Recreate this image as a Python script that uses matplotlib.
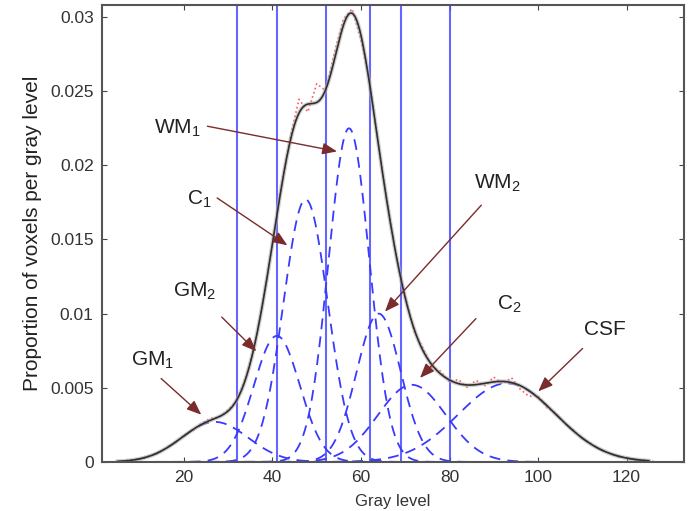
import numpy as np
import matplotlib.pyplot as plt

plt.rcParams['font.family'] = ['Liberation Sans', 'DejaVu Sans']
plt.rcParams['mathtext.default'] = 'regular'

# mixture components: name, mean, sigma, peak height
comp_names = ['GM1', 'GM2', 'C1', 'WM1', 'WM2', 'C2', 'CSF']
comp_mean = [27.0, 41.0, 47.5, 57.3, 64.0, 71.5, 93.0]
comp_sigma = [7.5, 5.2, 5.0, 4.6, 5.0, 7.7, 11.0]
comp_peak = [0.0027, 0.0085, 0.0177, 0.0225, 0.0100, 0.0052, 0.0053]

# thresholds between classes
thresholds = [32, 41, 52, 62, 69, 80]

# measured histogram (proportion of voxels x 1e4)
hist_level = list(range(6, 128, 2))
hist_val = [0.3, 1.4, 1.8, 4.2, 5.6, 9.8, 12.5, 18.3, 21.0, 26.2,
            29.4, 30.1, 35.2, 41.5, 57.3, 78.6, 111.5, 146.0, 186.2, 219.0,
            244.5, 236.0, 255.0, 250.3, 276.0, 298.5, 305.5, 284.0, 256.2, 212.5,
            174.5, 137.0, 112.4, 88.0, 76.8, 63.9, 61.2, 53.8, 55.6, 50.3,
            55.0, 51.4, 57.2, 52.6, 56.8, 48.9, 44.2, 44.8, 36.5, 33.1,
            25.8, 21.6, 15.5, 12.4, 8.2, 6.3, 3.5, 3.0, 1.2, 1.5, 0.4]

gx = np.linspace(5, 125, 400)
comps = [p * np.exp(-(gx - m) ** 2 / (2 * s ** 2))
         for m, s, p in zip(comp_mean, comp_sigma, comp_peak)]
total = np.sum(comps, axis=0)

fig = plt.figure(figsize=(6.89, 5.11), dpi=100)
ax = fig.add_axes([0.148, 0.096, 0.845, 0.894])

for t in thresholds:
    ax.axvline(t, color='#4a4aff', lw=1.5, alpha=0.85)
for c in comps:
    ax.plot(gx, c, color='#3a3aff', ls=(0, (6, 4)), lw=1.3)
ax.plot(hist_level, np.array(hist_val) * 1e-4, color='#ff5a5a', ls=':', lw=1.2)
ax.plot(gx, total, color='#b0b0b0', lw=3.0, alpha=0.6)
ax.plot(gx, total, color='#303030', lw=1.2)

arrow = dict(arrowstyle='-|>,head_length=0.55,head_width=0.22', color='#7a2b2b',
             lw=1.0, mutation_scale=16)
notes = [
    ('WM$_1$', (18.6, 0.0225), (24.7, 0.02267), (55.2, 0.0209)),
    ('C$_1$', (23.6, 0.0177), (27.0, 0.0179), (43.9, 0.0145)),
    ('GM$_2$', (22.5, 0.01147), (28.1, 0.0099), (36.8, 0.00733)),
    ('GM$_1$', (13.0, 0.00688), (14.4, 0.00575), (24.4, 0.00306)),
    ('WM$_2$', (90.7, 0.01875), (87.6, 0.01745), (65.0, 0.0100)),
    ('C$_2$', (93.6, 0.0106), (86.4, 0.0098), (72.9, 0.00553)),
    ('CSF', (115.0, 0.0089), (110.5, 0.00778), (99.6, 0.00463)),
]
for label, tpos, tail, head in notes:
    ax.text(*tpos, label, fontsize=15, ha='center', va='center', color='#222222')
    ax.annotate('', xy=head, xytext=tail, arrowprops=arrow)

ax.set_xlim(1.5, 133)
ax.set_ylim(0, 0.0308)
ax.set_xticks([20, 40, 60, 80, 100, 120])
ax.set_yticks([0, 0.005, 0.01, 0.015, 0.02, 0.025, 0.03])
ax.set_yticklabels(['0', '0.005', '0.01', '0.015', '0.02', '0.025', '0.03'])
ax.tick_params(direction='in', top=True, right=True, labelsize=12.5, pad=6,
               colors='#444444', labelcolor='#333333')
for sp in ax.spines.values():
    sp.set_color('#555555')
    sp.set_linewidth(1.5)
ax.set_xlabel('Gray level', fontsize=12, color='#333333', labelpad=6)
ax.set_ylabel('Proportion of voxels per gray level', fontsize=15, color='#222222',
              labelpad=6)

fig.savefig('out.png', dpi=100)
